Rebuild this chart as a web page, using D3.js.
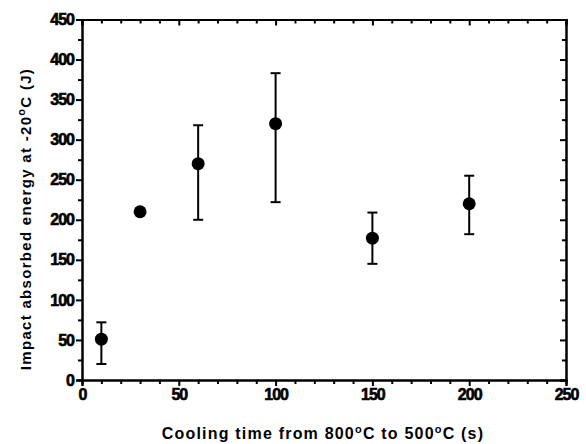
<!DOCTYPE html>
<html>
<head>
<meta charset="utf-8">
<script src="https://cdn.jsdelivr.net/npm/d3@7"></script>
<style>
  body { margin: 0; background: #fff; }
  svg text { font-family: "Liberation Sans", Arial, sans-serif; font-weight: bold; fill: #000; }
</style>
</head>
<body>
<div id="chart"></div>
<script>
// cooling time t8/5 (s) and impact energy at -20 C (J)
var cooling_time = [10, 30, 60, 100, 150, 200];
var energy = [51, 210, 270, 320, 177, 220];
var err_low = [20, 210, 200, 222, 145, 182];
var err_high = [72, 210, 318, 383, 209, 255];
var x_ticks = [0, 50, 100, 150, 200, 250];
var y_ticks = [0, 50, 100, 150, 200, 250, 300, 350, 400, 450];

var width = 586, height = 444;
var margin = { left: 82, right: 20, top: 19.5, bottom: 64 };

var svg = d3.select('#chart').append('svg')
    .attr('width', width)
    .attr('height', height);

var x = d3.scaleLinear().domain([0, 250]).range([margin.left, width - margin.right]);
var y = d3.scaleLinear().domain([0, 450]).range([height - margin.bottom, margin.top]);

var x_minor = d3.range(0, 251, 10).filter(function (d) { return d % 50 !== 0; });
var y_minor = d3.range(25, 450, 50);

// bottom + left axes, ticks pointing out
var bottom = svg.append('g').attr('transform', 'translate(0,' + y(0) + ')');
bottom.call(d3.axisBottom(x).tickValues(x_ticks).tickSize(6).tickPadding(3));
bottom.append('g').call(d3.axisBottom(x).tickValues(x_minor).tickSize(4).tickFormat(''));

var left = svg.append('g').attr('transform', 'translate(' + x(0) + ',0)');
left.call(d3.axisLeft(y).tickValues(y_ticks).tickSize(6).tickPadding(2));
left.append('g').call(d3.axisLeft(y).tickValues(y_minor).tickSize(4).tickFormat(''));

// top + right axes, ticks pointing in
var top_ax = svg.append('g').attr('transform', 'translate(0,' + y(450) + ')');
top_ax.call(d3.axisBottom(x).tickValues(x_ticks).tickSize(6).tickFormat(''));
top_ax.append('g').call(d3.axisBottom(x).tickValues(x_minor).tickSize(4).tickFormat(''));

var right_ax = svg.append('g').attr('transform', 'translate(' + x(250) + ',0)');
right_ax.call(d3.axisLeft(y).tickValues(y_ticks).tickSize(6).tickFormat(''));
right_ax.append('g').call(d3.axisLeft(y).tickValues(y_minor).tickSize(4).tickFormat(''));

[bottom, left].forEach(function (g) {
    g.attr('font-size', 16)
        .attr('font-family', '"Liberation Sans", Arial, sans-serif')
        .attr('font-weight', 'bold');
});

svg.selectAll('.domain').attr('stroke', '#000').attr('stroke-width', 2);
svg.selectAll('.tick line').attr('stroke', '#000').attr('stroke-width', 2);
svg.selectAll('.tick text')
    .attr('fill', '#000')
    .attr('stroke', '#000')
    .attr('stroke-width', 0.6)
    .attr('letter-spacing', '-1');

// error bars
var pts = cooling_time.map(function (t, i) {
    return { t: t, e: energy[i], lo: err_low[i], hi: err_high[i] };
}).filter(function (d) { return d.hi > d.lo; });

var bars = svg.append('g').attr('stroke', '#000').attr('stroke-width', 2);
bars.selectAll('line.stem').data(pts).enter().append('line')
    .attr('x1', function (d) { return x(d.t); })
    .attr('x2', function (d) { return x(d.t); })
    .attr('y1', function (d) { return y(d.lo); })
    .attr('y2', function (d) { return y(d.hi); });
['lo', 'hi'].forEach(function (k) {
    bars.selectAll('line.cap' + k).data(pts).enter().append('line')
        .attr('x1', function (d) { return x(d.t) - 5; })
        .attr('x2', function (d) { return x(d.t) + 5; })
        .attr('y1', function (d) { return y(d[k]); })
        .attr('y2', function (d) { return y(d[k]); });
});

// points
svg.append('g').selectAll('circle').data(cooling_time).enter().append('circle')
    .attr('cx', function (d) { return x(d); })
    .attr('cy', function (d, i) { return y(energy[i]); })
    .attr('r', 6.5)
    .attr('fill', '#000');

// axis titles
var xt = svg.append('text')
    .attr('x', 323).attr('y', 439)
    .attr('text-anchor', 'middle')
    .style('font-size', '16px')
    .style('letter-spacing', '1.2px');
xt.append('tspan').text('Cooling time from 800');
xt.append('tspan').attr('dy', -6).style('font-size', '11px').text('o');
xt.append('tspan').attr('dy', 6).text('C to 500');
xt.append('tspan').attr('dy', -6).style('font-size', '11px').text('o');
xt.append('tspan').attr('dy', 6).text('C (s)');

var yt = svg.append('text')
    .attr('transform', 'translate(31,' + 219 + ') rotate(-90)')
    .attr('text-anchor', 'middle')
    .style('font-size', '15px')
    .style('letter-spacing', '1.3px');
yt.append('tspan').text('Impact absorbed energy at -20');
yt.append('tspan').attr('dy', -6).style('font-size', '11px').text('o');
yt.append('tspan').attr('dy', 6).text('C (J)');
</script>
</body>
</html>
